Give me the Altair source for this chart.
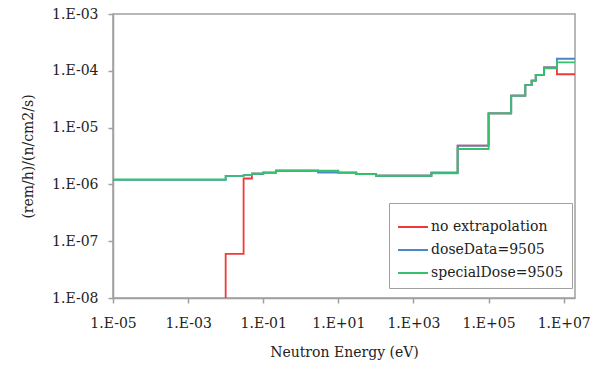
import altair as alt
import pandas as pd

# ---- data (energy in eV, dose factor in (rem/h)/(n/cm2/s)) ----
series_names = ["no extrapolation", "doseData=9505", "specialDose=9505"]
series_colors = ["#f03a3a", "#4a86c8", "#35c26a"]

x_ticks = [1e-5, 1e-3, 1e-1, 1e1, 1e3, 1e5, 1e7]
y_ticks = [1e-8, 1e-7, 1e-6, 1e-5, 1e-4, 1e-3]

# red: zero (off-scale) below 1e-2 eV
red_edges = [1e-2, 1e-2, 3e-2, 5e-2, 1e-1, 2.2e-1, 2.9, 1e1, 3e1, 1e2, 3e3, 1.5e4, 1e5,
             4e5, 9.5e5, 1.4e6, 1.8e6, 3e6, 6.6e6, 2e7]
red_vals = [1e-10, 6.0e-8, 1.27e-6, 1.54e-6, 1.61e-6, 1.74e-6, 1.63e-6, 1.61e-6, 1.52e-6,
            1.42e-6, 1.61e-6, 4.8e-6, 1.78e-5, 3.65e-5, 5.6e-5, 6.7e-5, 8.5e-5, 1.15e-4, 8.7e-5]

blue_edges = [1e-5, 1e-2, 3e-2, 5e-2, 1e-1, 2.2e-1, 2.9, 1e1, 3e1, 1e2, 3e3, 1.5e4, 1e5,
              4e5, 9.5e5, 1.4e6, 1.8e6, 3e6, 6.6e6, 2e7]
blue_vals = [1.20e-6, 1.41e-6, 1.46e-6, 1.54e-6, 1.61e-6, 1.74e-6, 1.63e-6, 1.61e-6, 1.52e-6,
             1.42e-6, 1.61e-6, 4.8e-6, 1.78e-5, 3.65e-5, 5.6e-5, 6.7e-5, 8.5e-5, 1.15e-4, 1.63e-4]

green_edges = [1e-5, 1e-2, 3e-2, 5e-2, 1e-1, 2.2e-1, 1e1, 3e1, 1e2, 3e3, 1.5e4, 1e5,
               4e5, 9.5e5, 1.4e6, 1.8e6, 3e6, 6.6e6, 2e7]
green_vals = [1.22e-6, 1.41e-6, 1.46e-6, 1.54e-6, 1.61e-6, 1.74e-6, 1.61e-6, 1.52e-6,
              1.42e-6, 1.57e-6, 4.2e-6, 1.78e-5, 3.65e-5, 5.6e-5, 6.7e-5, 8.5e-5, 1.11e-4, 1.41e-4]

FONT = "DejaVu Serif"


def step_rows(name, edges, vals):
    rows = []
    for i, v in enumerate(vals):
        rows.append({"series": name, "E": edges[i], "D": v, "i": i})
    rows.append({"series": name, "E": edges[-1], "D": vals[-1], "i": len(vals)})
    return rows


rows = (step_rows(series_names[0], red_edges, red_vals)
        + step_rows(series_names[1], blue_edges, blue_vals)
        + step_rows(series_names[2], green_edges, green_vals))
df = pd.DataFrame(rows)

exp = "round(log(datum.value)/LN10)"
label_expr = f"'1.E' + ({exp} < 0 ? '-' : '+') + (abs({exp}) < 10 ? '0' : '') + abs({exp})"

x_enc = alt.X("E:Q",
              scale=alt.Scale(type="log", domain=[1e-5, 2e7], nice=False),
              axis=alt.Axis(values=x_ticks, labelExpr=label_expr, title="Neutron Energy (eV)",
                            tickSize=5, labelPadding=13, titlePadding=15, labelFlush=False))
y_enc = alt.Y("D:Q",
              scale=alt.Scale(type="log", domain=[1e-8, 1e-3], nice=False),
              axis=alt.Axis(values=y_ticks, labelExpr=label_expr, title="(rem/h)/(n/cm2/s)",
                            tickSize=5, labelPadding=10, titlePadding=16, labelFlush=False))
color_enc = alt.Color("series:N",
                      scale=alt.Scale(domain=series_names, range=series_colors),
                      legend=alt.Legend(title=None, orient="none", legendX=276, legendY=189,
                                        symbolType="stroke", symbolSize=900, symbolStrokeWidth=2,
                                        labelFont=FONT, labelFontSize=14,
                                        labelColor="#222222", labelOffset=2,
                                        strokeColor="#a0a0a0", fillColor="white",
                                        padding=8, rowPadding=0, labelLimit=300))

layers = []
for name in series_names:
    layers.append(
        alt.Chart(df).transform_filter(alt.datum.series == name)
        .mark_line(interpolate="step-after", strokeWidth=1.8, clip=True)
        .encode(x=x_enc, y=y_enc, color=color_enc, order=alt.Order("i:Q"))
    )

chart = alt.layer(*layers).properties(
    width=462, height=284,
    autosize=alt.AutoSizeParams(type="none"),
    padding={"left": 113, "top": 14, "right": 23, "bottom": 67},
).configure(
    font=FONT
).configure_axis(
    grid=False,
    labelFont=FONT, labelFontSize=14, labelColor="#222222",
    titleFont=FONT, titleFontSize=14, titleFontWeight="normal", titleColor="#222222",
    domainColor="#a0a0a0", domainWidth=1.5, tickColor="#a0a0a0", tickWidth=1.5,
).configure_legend(
    labelFont=FONT
).configure_view(
    stroke="#a0a0a0", strokeWidth=1.5
)

chart.save("out.html", embed_options={"renderer": "svg", "actions": False})
